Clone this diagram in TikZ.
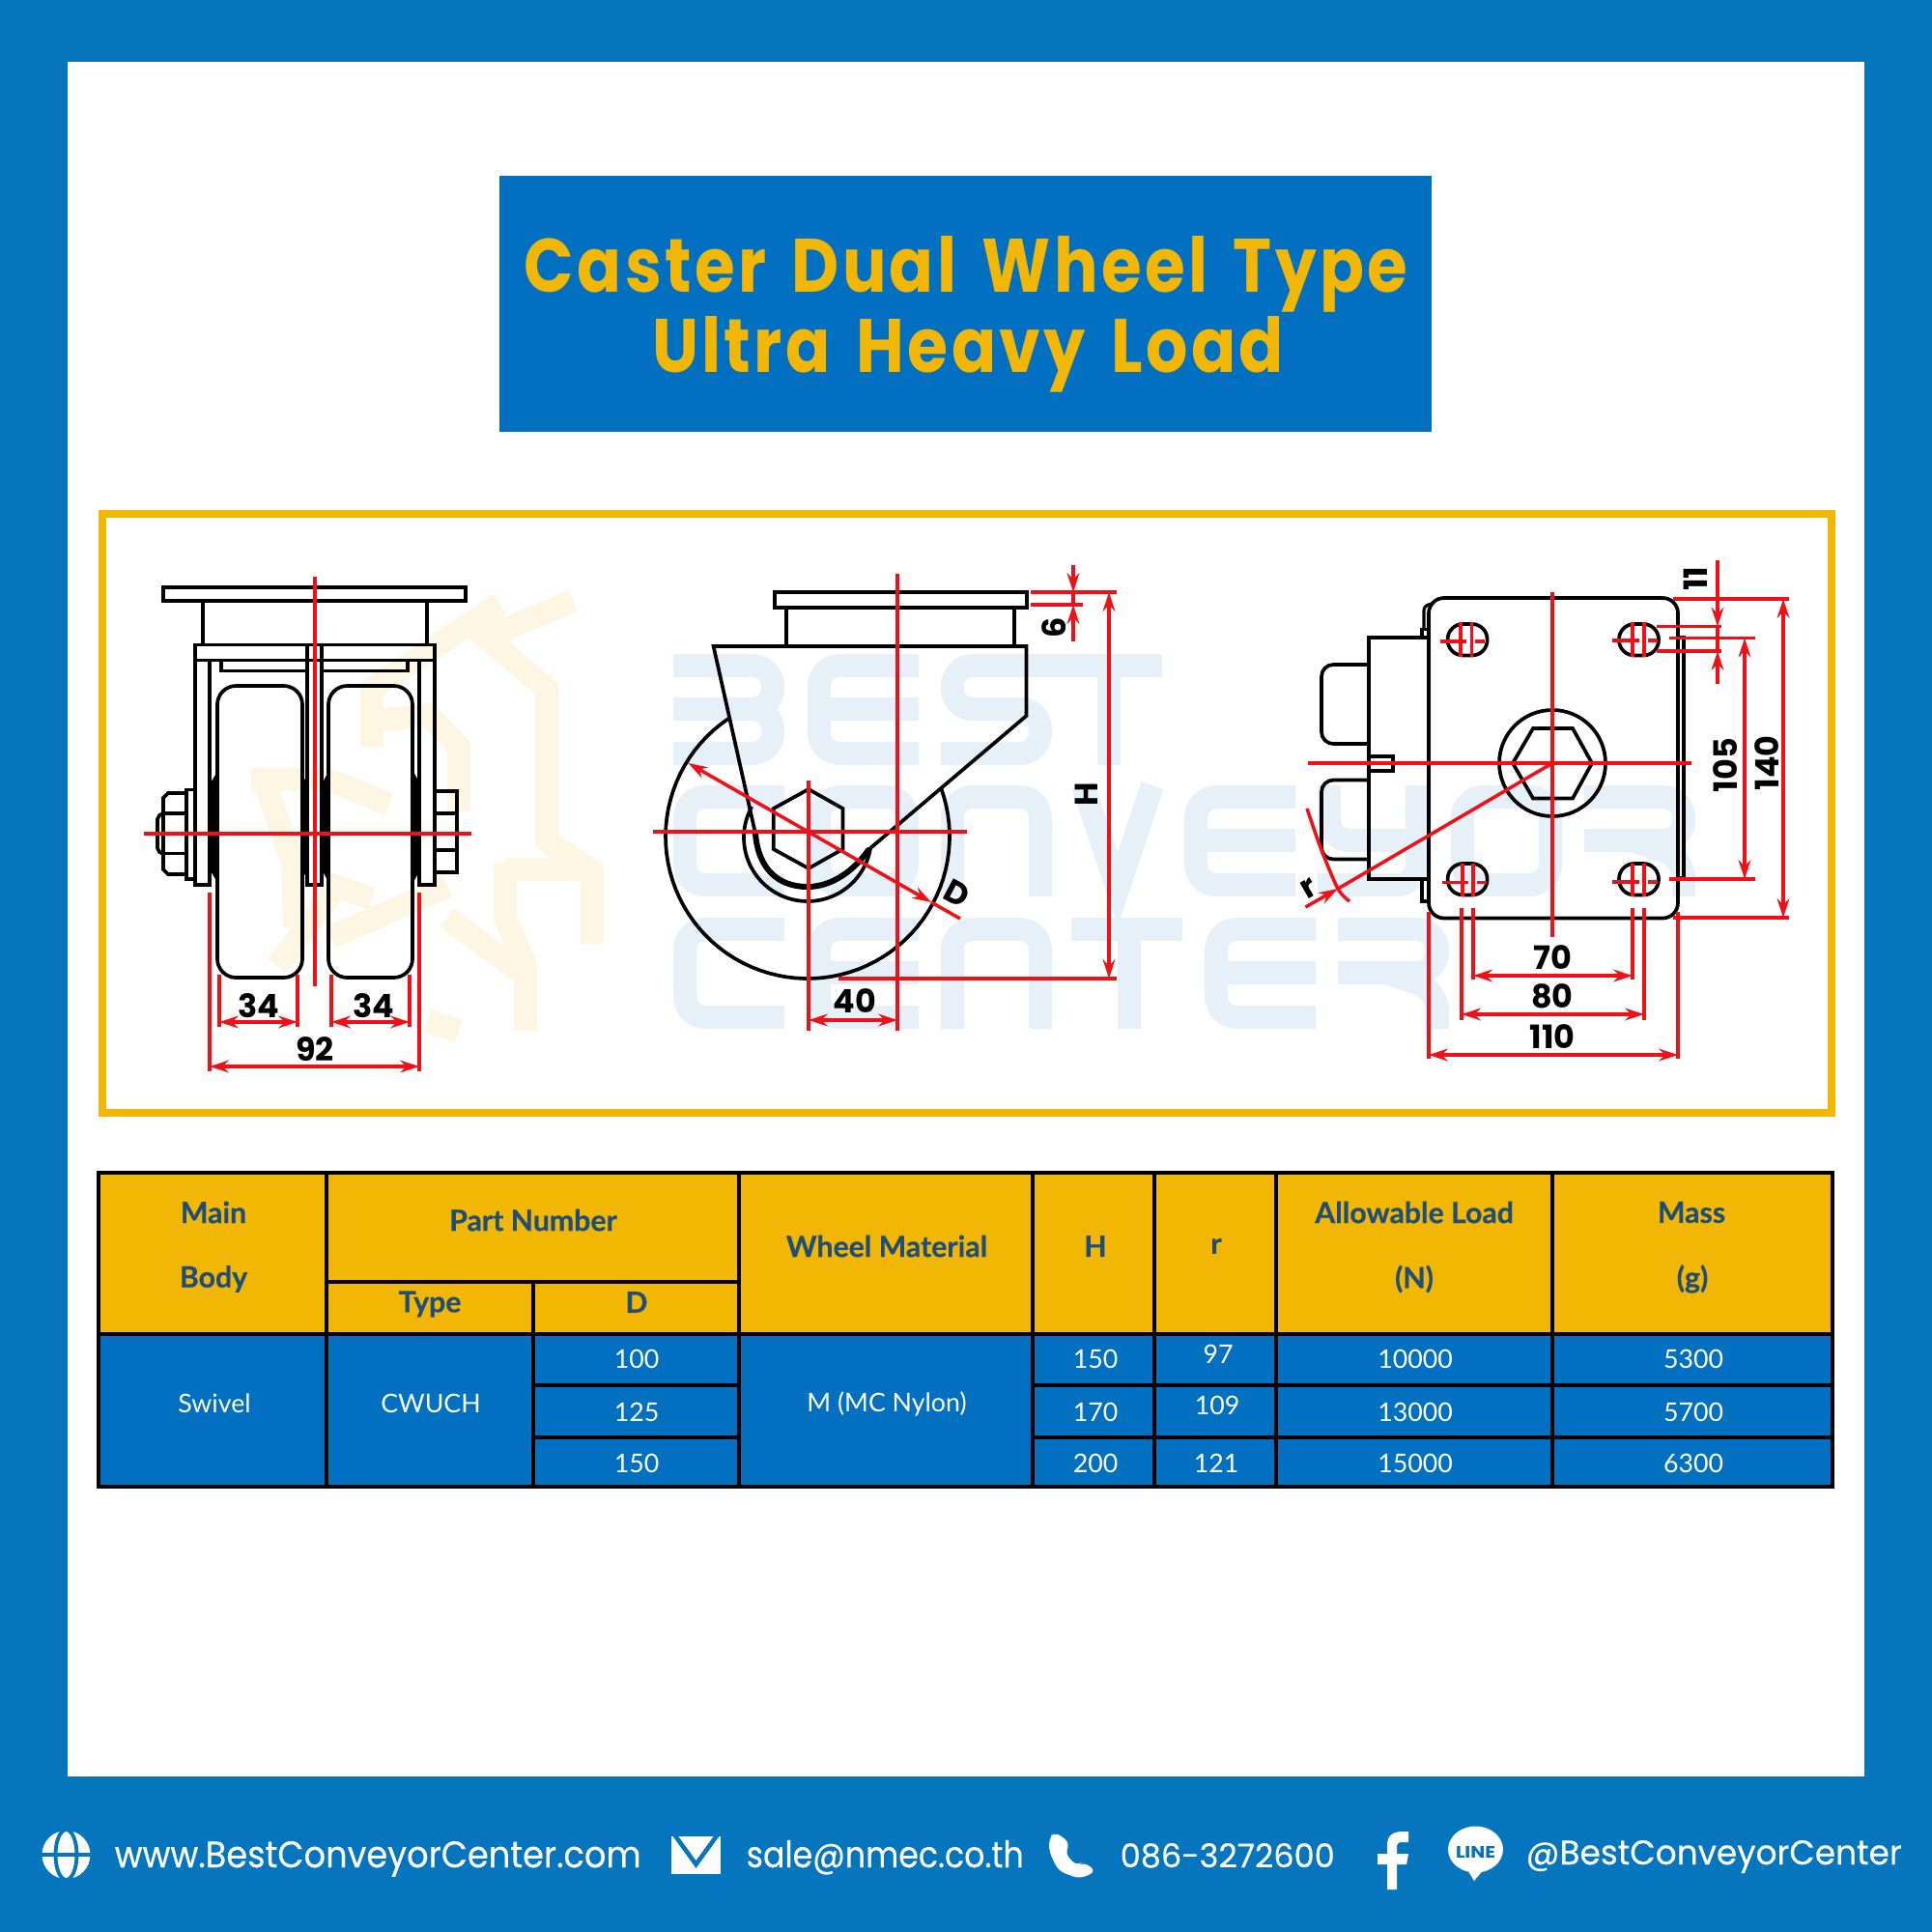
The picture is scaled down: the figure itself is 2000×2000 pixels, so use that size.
\documentclass[tikz,border=0pt]{standalone}
\usepackage{fontspec}
\usepackage{graphicx}
\usetikzlibrary{arrows.meta}
\setmainfont{Poppins}
\newfontfamily\tablefont{Lato}
\newlength{\pxu}\setlength{\pxu}{0.01cm}
\definecolor{outerblue}{HTML}{0575BE}
\definecolor{boxblue}{HTML}{0270C0}
\definecolor{gold}{HTML}{F2B705}
\definecolor{headtxt}{HTML}{1F4E79}
\definecolor{wmblue}{HTML}{E6F0F8}
\definecolor{wmgold}{HTML}{FDF6E3}
\definecolor{dimred}{HTML}{F01018}
\tikzset{
 blk/.style={draw=black,line width=1.05pt,line join=miter},
 redl/.style={draw=dimred,line width=1pt},
 dimarr/.style={redl,{Stealth[length=5.6pt,width=3.6pt]}-{Stealth[length=5.6pt,width=3.6pt]}},
 tipin/.style={redl,-{Stealth[length=5.6pt,width=3.6pt]}},
 dimtxt/.style={inner sep=0pt,font=\fontsize{9.5}{11}\selectfont\bfseries,text=black},
 thead/.style={inner sep=0pt,font=\tablefont\fontsize{8.6}{10}\selectfont\bfseries\addfontfeatures{FakeBold=0.5},text=headtxt},
 tbody/.style={inner sep=0pt,font=\tablefont\fontsize{7.6}{9}\selectfont,text=white},
 tline/.style={draw=black,line width=1.3pt},
 wmk/.style={draw=wmblue,line width=6.8pt,line join=miter},
 wmr/.style={wmk,rounded corners=6pt},
 lgo/.style={draw=wmgold,line width=6.8pt,line join=miter},
 wmB/.pic={\draw[wmr] (0,12)--(103,12)--(103,57)--(0,57); \draw[wmr] (20,57)--(103,57)--(103,103)--(0,103);},
 wmE/.pic={\draw[wmr] (115,12)--(12,12)--(12,103)--(115,103); \draw[wmk] (12,57)--(115,57);},
 wmS/.pic={\draw[wmr] (115,12)--(12,12)--(12,57)--(103,57)--(103,103)--(0,103);},
 wmT/.pic={\draw[wmk] (0,12)--(115,12); \draw[wmk] (60,12)--(60,115);},
 wmC/.pic={\draw[wmr] (115,12)--(12,12)--(12,103)--(115,103);},
 wmO/.pic={\draw[wmr] (12,12)--(103,12)--(103,103)--(12,103)--cycle;},
 wmN/.pic={\draw[wmr] (12,115)--(12,12)--(103,12)--(103,115);},
 wmV/.pic={\draw[wmk] (12,0)--(48,108)--(84,0);},
 wmY/.pic={\draw[wmr] (12,0)--(12,57)--(103,57); \draw[wmr] (103,0)--(103,103)--(0,103);},
 wmR/.pic={\draw[wmr] (0,12)--(103,12)--(103,57)--(0,57); \draw[wmr] (50,57)--(103,75)--(103,115);},
}
\newcommand{\footfont}{\addfontfeatures{FakeBold=0.3}}
\newfontfamily\titlefont[LetterSpace=5,WordSpace=1.5]{Poppins}
\begin{document}
\begin{tikzpicture}[x=0.01cm,y=-0.01cm]
\useasboundingbox (0,0) rectangle (2000,2000);
\fill[outerblue] (0,0) rectangle (2000,2000);
\fill[white] (70,64) rectangle (1930,1839);
% title
\fill[boxblue] (517,182) rectangle (1482,447);
\node[inner sep=0pt,anchor=base,text=gold] (title1) at (1000,302) {\resizebox{914\pxu}{58\pxu}{\titlefont\bfseries Caster Dual Wheel Type}};
\node[inner sep=0pt,anchor=base,text=gold] (title2) at (1002,385) {\resizebox{654\pxu}{58\pxu}{\titlefont\bfseries Ultra Heavy Load}};
% frame
\draw[gold,line width=2.5pt] (106,532) rectangle (1896,1152);
% watermark: text
\foreach \c/\x in {B/697,E/836,S/974,T/1088} \pic at (\x,677) {wm\c};
\foreach \c/\x in {C/697,O/836,N/974,V/1109,E/1226,Y/1364,O/1502,R/1640} \pic at (\x,813) {wm\c};
\foreach \c/\x in {C/697,E/836,N/974,T/1109,E/1247,R/1385} \pic at (\x,950) {wm\c};
% watermark: logo
\draw[lgo] (385,773)--(385,713)--(517,625);
\draw[lgo] (593,622)--(503,660)--(566,713)--(566,870)--(613,902)--(613,977);
\draw[lgo] (385,747)--(443,740)--(475,773)--(475,840);
\draw[lgo] (260,807)--(340,807)--(403,833);
\draw[lgo] (523,900)--(613,900);
\draw[lgo] (523,893)--(523,950)--(544,1000)--(544,1067);
\draw[lgo] (343,970)--(463,917);
\draw[lgo] (463,950)--(544,1010);
\draw[lgo] (275,813)--(303,893)--(305,960);
\draw[lgo] (287,1000)--(347,920);
\draw[lgo] (443,1057)--(475,1067);
\draw[lgo] (340,915)--(385,930);
% ---------- left view
\draw[blk] (169,608) rectangle (482,622);
\draw[blk] (210,622)--(210,667) (442,622)--(442,667);
\draw[blk] (202,667.5) rectangle (450,683.5);
\draw[blk] (202,683.5)--(202,916)--(217,916)--(217,683.5);
\draw[blk] (434,683.5)--(434,916)--(450,916)--(450,683.5);
\draw[blk] (318,667.5)--(318,916)--(333,916)--(333,667.5);
\draw[blk] (229,683.5)--(229,694.5)--(318,694.5);
\draw[blk] (333,694.5)--(422,694.5)--(422,683.5);
\draw[blk,rounded corners=5.5pt] (225,710) rectangle (313,1012);
\draw[blk,rounded corners=5.5pt] (340,710) rectangle (427,1012);
\fill[black] (226,797)--(217,812)--(217,900)--(226,915)--cycle;
\fill[black] (311,797)--(318,812)--(318,900)--(311,915)--cycle;
\fill[black] (341,797)--(333,812)--(333,900)--(341,915)--cycle;
\fill[black] (427,797)--(435,812)--(435,900)--(427,915)--cycle;
\draw[blk] (193,817.5) rectangle (202,910);
\draw[blk] (193,821)--(174,821)--(169,826)--(169,900)--(174,905)--(193,905);
\draw[blk] (169,842)--(193,842) (169,883.5)--(193,883.5);
\draw[blk] (169,842)--(165,844)--(163,848)--(163,878)--(165,882)--(169,884);
\draw[blk] (450,819) rectangle (473,903);
\draw[blk] (450,842)--(473,842) (450,880)--(473,880);
% left view: dimensions
\draw[redl] (326,597)--(326,1021);
\draw[redl] (149,863)--(488,863);
\draw[redl] (227,1009)--(227,1063) (308,1009)--(308,1063);
\draw[redl] (343,1009)--(343,1063) (424,1009)--(424,1063);
\draw[dimarr] (227,1058)--(308,1058);
\draw[dimarr] (343,1058)--(424,1058);
\draw[redl] (217,924)--(217,1109) (434,924)--(434,1109);
\draw[dimarr] (217,1104)--(434,1104);
\node[dimtxt] (d34a) at (268,1041) {34};
\node[dimtxt] (d34b) at (387,1041) {34};
\node[dimtxt] (d92) at (326,1086) {92};
% ---------- centre view
\draw[blk] (802,613) rectangle (1063,629);
\draw[blk] (814,629)--(814,669) (1050,629)--(1050,669);
\draw[blk] (782,863)--(738.6,669)--(1062.5,669)--(1062.5,741)--(901,878);
\draw[blk] plot[domain=236:-20,samples=70] ({836+147*cos(\x)},{866+147*sin(\x)});
\draw[blk] plot[domain=209:9.5,samples=60] ({836+66*cos(\x)},{867+66*sin(\x)});
\draw[blk,line width=1.7pt,line cap=round] (782,863) .. controls (785,900) and (806,918) .. (836,918) .. controls (862,918) and (885,900) .. (899,880);
\draw[blk] (837,817)--(872.5,837)--(872.5,879)--(837,899)--(800.7,879)--(800.7,837)--cycle;
% centre view: dimensions
\draw[redl] (837,808)--(837,1067);
\draw[redl] (929,594)--(929,1067);
\draw[redl] (676,861)--(1001,861);
\draw[redl] (994,951)--(964,934);
\draw[dimarr] (964,934)--(712.5,790);
\draw[dimarr] (837,1056)--(929,1056);
\draw[redl] (1067,613)--(1156,613) (868,1013)--(1156,1013) (1067,626)--(1121,626);
\draw[dimarr] (1148,613)--(1148,1013);
\draw[tipin] (1111,585)--(1111,613);
\draw[redl] (1111,613)--(1111,626);
\draw[tipin] (1111,664)--(1111,626);
\node[dimtxt] (d40) at (885,1036) {40};
\node[dimtxt,rotate=-28] (dD) at (991,925) {D};
\node[dimtxt,rotate=90] (dH) at (1125,822) {H};
\node[dimtxt,rotate=90] (d6) at (1091,650) {6};
% ---------- right view
\draw[blk,rounded corners=4.5pt] (1479,619) rectangle (1737,950.5);
\draw[blk] (1737,660)--(1743,660)--(1743,909)--(1737,909);
\draw[blk] (1479,660)--(1417,660)--(1417,910)--(1479,910);
\draw[blk,rounded corners=3.5pt] (1417,688)--(1368,688)--(1368,770)--(1417,770);
\draw[blk,rounded corners=3.5pt] (1417,807.5)--(1368,807.5)--(1368,889.5)--(1417,889.5);
\draw[blk] (1417,783)--(1442,783)--(1442,798)--(1417,798);
\draw[blk] (1479,651.5)--(1472,651.5)--(1472,660);
\draw[blk,line width=.9pt] (1474,651.5)--(1474,632)  .. controls (1474,627) and (1479,625) .. (1484,625);
\draw[blk] (1472,910)--(1472,933)--(1479,933);
\draw[blk] (1607,790) circle[radius=55];
\draw[blk] (1566,790)--(1587,754)--(1628,754)--(1648,790)--(1628,826.5)--(1587,826.5)--cycle;
\foreach \sx/\sy in {1498.6/646,1676/646,1498.6/894,1676/894}
  \draw[blk,rounded corners=4.5pt] (\sx,\sy) rectangle ++(41,32.5);
% slot centre marks
\draw[redl] (1512,644)--(1512,679.5) (1523.6,644)--(1523.6,679.5) (1491,664)--(1518,664) (1527,664)--(1537,664);
\draw[redl] (1690,644)--(1690,679.5) (1702,644)--(1702,679.5) (1669,663)--(1697,663) (1706,663)--(1716,663);
\draw[redl] (1514,894)--(1514,928) (1525,894)--(1525,928) (1493,913.5)--(1520,913.5) (1529,913.5)--(1539,913.5);
\draw[redl] (1690,894)--(1690,928) (1702,894)--(1702,928) (1669,913)--(1697,913) (1706,913)--(1716,913);
% right view: dimensions
\draw[redl] (1607,613)--(1607,969.5);
\draw[redl] (1354,790)--(1751,790);
\draw[redl] (1607,790)--(1385,920);
\draw[tipin] (1351.4,939)--(1385,920);
\draw[redl] plot[smooth] coordinates {(1353,837)(1368,880)(1385,920)(1397,933)};
\draw[redl] (1715,648.5)--(1782,648.5) (1715,674)--(1782,674);
\draw[tipin] (1778,580)--(1778,648.5);
\draw[redl] (1778,648.5)--(1778,674);
\draw[tipin] (1778,708)--(1778,674);
\draw[redl] (1728,660.5)--(1817,660.5) (1728,910)--(1817,910);
\draw[dimarr] (1806,660.5)--(1806,910);
\draw[redl] (1732,620)--(1852,620) (1732,950)--(1852,950);
\draw[dimarr] (1846,620)--(1846,950);
\draw[redl] (1525,940)--(1525,1014) (1690,940)--(1690,1014);
\draw[dimarr] (1525,1010)--(1690,1010);
\draw[redl] (1513,940)--(1513,1055.5) (1702,940)--(1702,1055.5);
\draw[dimarr] (1513,1050)--(1702,1050);
\draw[redl] (1479,943.5)--(1479,1096) (1737,943.5)--(1737,1096);
\draw[dimarr] (1479,1092)--(1737,1092);
\node[dimtxt,rotate=30] (dr) at (1355,920) {r};
\node[dimtxt,rotate=90] (d11) at (1755,599) {11};
\node[dimtxt,rotate=90] (d105) at (1786,792) {105};
\node[dimtxt,rotate=90] (d140) at (1829,790) {140};
\node[dimtxt] (d70) at (1607,991) {70};
\node[dimtxt] (d80) at (1607,1031) {80};
\node[dimtxt] (d110) at (1607,1073) {110};
% ---------- table
\fill[gold] (102,1214) rectangle (1897,1381);
\fill[boxblue] (102,1381) rectangle (1897,1539);
\draw[tline] (102,1214) rectangle (1897,1539);
\draw[tline] (102,1381)--(1897,1381) (338,1327)--(765,1327);
\draw[tline] (552,1434)--(765,1434) (552,1488)--(765,1488);
\draw[tline] (1069,1434)--(1897,1434) (1069,1488)--(1897,1488);
\foreach \cx in {338,765,1069,1195,1321,1607} \draw[tline] (\cx,1214)--(\cx,1539);
\draw[tline] (552,1327)--(552,1539);
\node[thead] (hMain) at (221,1255) {Main};
\node[thead] (hBody) at (221,1324) {Body};
\node[thead] (hPN) at (552,1263) {Part Number};
\node[thead] (hType) at (445,1350) {Type};
\node[thead] (hD) at (659,1348) {D};
\node[thead] (hWM) at (918,1290) {Wheel Material};
\node[thead] (hH) at (1134,1290) {H};
\node[thead] (hr) at (1259,1290) {r};
\node[thead] (hAL) at (1464,1255) {Allowable Load};
\node[thead] (hN) at (1464,1324) {(N)};
\node[thead] (hMass) at (1751,1255) {Mass};
\node[thead] (hg) at (1752,1324) {(g)};
\node[tbody] (bSw) at (222,1453) {Swivel};
\node[tbody] (bCW) at (446,1453) {CWUCH};
\node[tbody] (bMC) at (918,1453) {M (MC Nylon)};
\node[tbody] (bD1) at (659,1407) {100};
\node[tbody] (bD2) at (659,1462) {125};
\node[tbody] (bD3) at (659,1515) {150};
\node[tbody] (bH1) at (1134,1407) {150};
\node[tbody] (bH2) at (1134,1462) {170};
\node[tbody] (bH3) at (1134,1515) {200};
\node[tbody] (br1) at (1261,1402) {97};
\node[tbody] (br2) at (1260,1455) {109};
\node[tbody] (br3) at (1259,1515) {121};
\node[tbody] (bL1) at (1465,1407) {10000};
\node[tbody] (bL2) at (1465,1462) {13000};
\node[tbody] (bL3) at (1465,1515) {15000};
\node[tbody] (bM1) at (1753,1407) {5300};
\node[tbody] (bM2) at (1753,1462) {5700};
\node[tbody] (bM3) at (1753,1515) {6300};
% ---------- footer icons
\fill[white] (68.5,1920) circle[radius=25];
\draw[outerblue,line width=1.1pt] (68.5,1920) ellipse[x radius=11,y radius=26];
\draw[outerblue,line width=1.3pt] (40,1920)--(97,1920);
\fill[white] (695,1901) rectangle (746,1940);
\draw[outerblue,line width=1.3pt] (698,1899)--(720.5,1930)--(743,1899);
\fill[white,rounded corners=2pt] (1092,1896)--(1108,1908)--(1102,1918)--(1115,1932)--(1121,1927)--(1135,1937)--(1118,1945)--(1096,1937)--(1086,1917)--(1086,1903)--cycle;
\fill[white] (1436,1956)--(1436,1930)--(1426,1930)--(1426,1919)--(1436,1919)--(1436,1910) .. controls (1436,1900) and (1442,1896) .. (1452,1896)--(1458,1896)--(1458,1907)--(1452,1907) .. controls (1448,1907) and (1446,1908) .. (1446,1912)--(1446,1919)--(1458,1919)--(1456,1930)--(1446,1930)--(1446,1956)--cycle;
\fill[white] (1527.5,1914.5) ellipse[x radius=28.5,y radius=24];
\fill[white] (1518,1934)--(1537,1934)--(1526,1947)--cycle;
\node[inner sep=0pt,anchor=base,text=boxblue] (lineword) at (1527.5,1923) {\resizebox{41\pxu}{12\pxu}{\bfseries LINE}};
% ---------- footer text
\node[inner sep=0pt,anchor=base west,text=white] (fweb) at (118,1933) {\resizebox{545\pxu}{27\pxu}{\footfont www.BestConveyorCenter.com}};
\node[inner sep=0pt,anchor=base west,text=white] (fmail) at (772,1933) {\resizebox{287\pxu}{28\pxu}{\footfont sale@nmec.co.th}};
\node[inner sep=0pt,anchor=base west,text=white] (ftel) at (1159,1933) {\resizebox{222\pxu}{25\pxu}{\footfont 086-3272600}};
\node[inner sep=0pt,anchor=base west,text=white] (fline) at (1579,1930) {\resizebox{389\pxu}{25\pxu}{\footfont @BestConveyorCenter}};
\end{tikzpicture}
\end{document}
